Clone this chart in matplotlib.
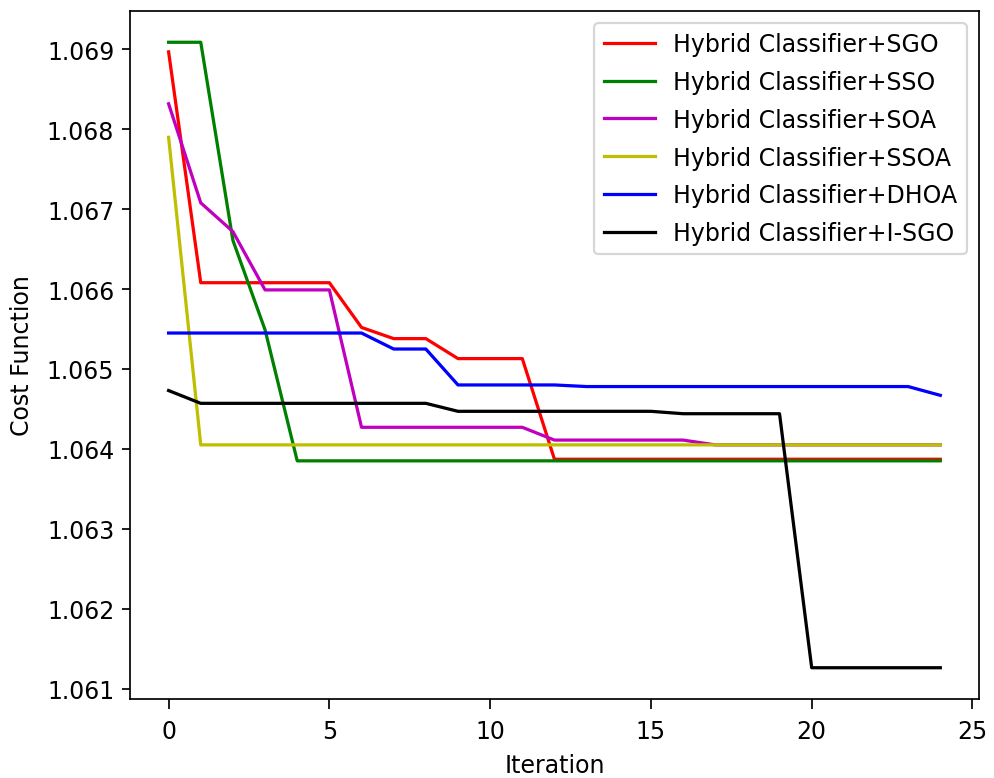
import matplotlib
matplotlib.use("Agg")
import matplotlib.pyplot as plt

# -- Data --------------------------------------------------------------------
iterations = list(range(25))

sgo = [1.06897, 1.06608, 1.06608, 1.06608, 1.06608, 1.06608, 1.06552, 1.06538,
       1.06538, 1.06513, 1.06513, 1.06513, 1.06387, 1.06387, 1.06387, 1.06387,
       1.06387, 1.06387, 1.06387, 1.06387, 1.06387, 1.06387, 1.06387, 1.06387,
       1.06387]
sso = [1.06909, 1.06909, 1.06661, 1.06549, 1.06385, 1.06385, 1.06385, 1.06385,
       1.06385, 1.06385, 1.06385, 1.06385, 1.06385, 1.06385, 1.06385, 1.06385,
       1.06385, 1.06385, 1.06385, 1.06385, 1.06385, 1.06385, 1.06385, 1.06385,
       1.06385]
soa = [1.06832, 1.06708, 1.06672, 1.06599, 1.06599, 1.06599, 1.06427, 1.06427,
       1.06427, 1.06427, 1.06427, 1.06427, 1.06411, 1.06411, 1.06411, 1.06411,
       1.06411, 1.06405, 1.06405, 1.06405, 1.06405, 1.06405, 1.06405, 1.06405,
       1.06405]
ssoa = [1.06790] + [1.06405] * 24
dhoa = [1.06545, 1.06545, 1.06545, 1.06545, 1.06545, 1.06545, 1.06545, 1.06525,
        1.06525, 1.06480, 1.06480, 1.06480, 1.06480, 1.06478, 1.06478, 1.06478,
        1.06478, 1.06478, 1.06478, 1.06478, 1.06478, 1.06478, 1.06478, 1.06478,
        1.06467]
isgo = [1.06473, 1.06457, 1.06457, 1.06457, 1.06457, 1.06457, 1.06457, 1.06457,
        1.06457, 1.06447, 1.06447, 1.06447, 1.06447, 1.06447, 1.06447, 1.06447,
        1.06444, 1.06444, 1.06444, 1.06444, 1.06126, 1.06126, 1.06126, 1.06126,
        1.06126]

labels = ["Hybrid Classifier+SGO", "Hybrid Classifier+SSO",
          "Hybrid Classifier+SOA", "Hybrid Classifier+SSOA",
          "Hybrid Classifier+DHOA", "Hybrid Classifier+I-SGO"]
colors = ["r", "g", "m", "y", "b", "k"]

# -- Plot --------------------------------------------------------------------
plt.rcParams["font.size"] = 11

fig = plt.figure(figsize=(994 / 155, 779 / 155), dpi=155)
ax = fig.add_axes([0.1308, 0.1014, 0.854, 0.8832])

for series, lab, col in zip([sgo, sso, soa, ssoa, dhoa, isgo], labels, colors):
    ax.plot(iterations, series, color=col, label=lab)

ax.ticklabel_format(axis="y", useOffset=False)
ax.tick_params(axis="x", length=4.6, pad=4.5)
ax.tick_params(axis="y", length=3.8)
ax.set_xlabel("Iteration", labelpad=5)
ax.set_ylabel("Cost Function", labelpad=6)
ax.legend(loc="upper right", labelspacing=0.58, handlelength=2.15)

fig.savefig("out.png", dpi=155)
